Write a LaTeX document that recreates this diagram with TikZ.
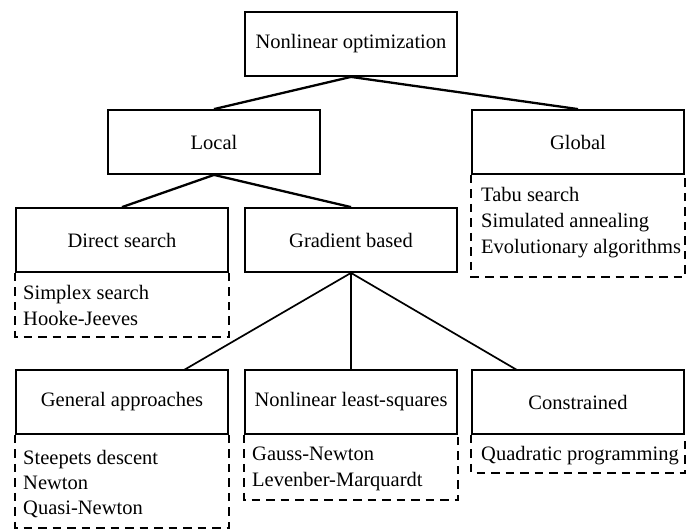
\documentclass[tikz,border=0pt]{standalone}
\usepackage{fontspec}
\setmainfont{Liberation Serif}
\begin{document}
\begin{tikzpicture}[x=1pt,y=-1pt,
  box/.style={draw,line width=1.8pt,minimum width=212pt,minimum height=64pt,inner sep=0pt,font=\fontsize{20.5}{24}\selectfont},
  dashbox/.style={draw,line width=2.2pt,dash pattern=on 8.5pt off 6pt},
  item/.style={anchor=base west,inner sep=0pt,font=\fontsize{20.5}{24}\selectfont},
  thickline/.style={line width=2.3pt},
  thinline/.style={line width=1.7pt}]
\useasboundingbox (0,0) rectangle (690,528);
% boxes
\node[box] (top) at (351,44) {Nonlinear optimization};
\node[box] (loc) at (214,142) {Local};
\node[box] (glob) at (578,142) {Global};
\node[box] (dir) at (122,240) {Direct search};
\node[box] (grad) at (351,240) {Gradient based};
\node[box] (gen) at (122,402) {General approaches};
\node[box] (nls) at (351,402) {Nonlinear least-squares};
\node[box] (con) at (578,402) {Constrained};
% connectors
\coordinate (genc) at (184,370);
\coordinate (conc) at (517,370);
\draw[thickline] (top.south) -- (loc.north);
\draw[thickline] (top.south) -- (glob.north);
\draw[thickline] (loc.south) -- (dir.north);
\draw[thickline] (loc.south) -- (grad.north);
\draw[thinline] (grad.south) -- (genc);
\draw[thinline] (grad.south) -- (nls.north);
\draw[thinline] (grad.south) -- (conc);
% dashed lists
\draw[dashbox] (glob.south west) -- ++(0,102) -| (glob.south east);
\draw[dashbox] (dir.south west) -- ++(0,64) -| (dir.south east);
\draw[dashbox] (gen.south west) -- ++(0,93) -| (gen.south east);
\draw[dashbox] (nls.south west) -- ++(0,65) -| (nls.south east);
\draw[dashbox] (con.south west) -- ++(0,38) -| (con.south east);
% list texts
\node[item] (g1) at (481,201) {Tabu search};
\node[item] (g2) at (481,227) {Simulated annealing};
\node[item] (g3) at (481,253) {Evolutionary algorithms};
\node[item] (d1) at (23,299) {Simplex search};
\node[item] (d2) at (23,325) {Hooke-Jeeves};
\node[item] (a1) at (23,464) {Steepets descent};
\node[item] (a2) at (23,489) {Newton};
\node[item] (a3) at (23,514) {Quasi-Newton};
\node[item] (n1) at (252,460) {Gauss-Newton};
\node[item] (n2) at (252,486) {Levenber-Marquardt};
\node[item] (c1) at (481,460) {Quadratic programming};
\end{tikzpicture}
\end{document}
